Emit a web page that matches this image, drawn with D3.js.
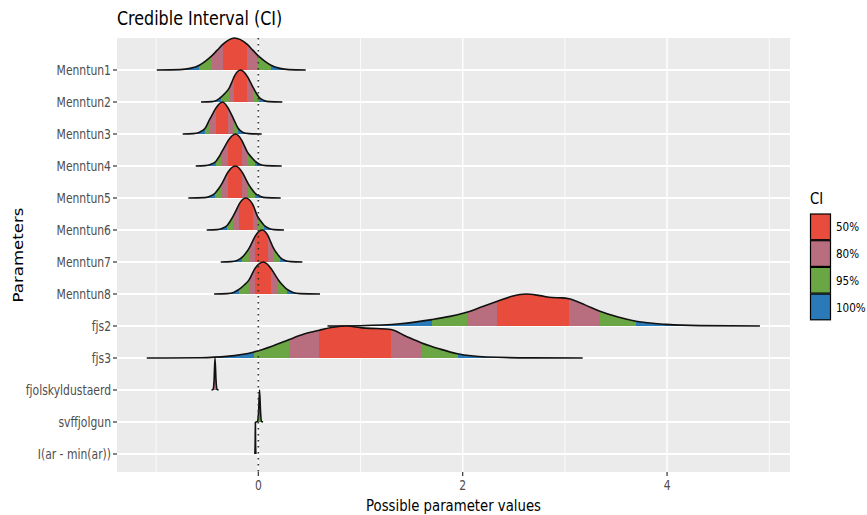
<!DOCTYPE html>
<html>
<head>
<meta charset="utf-8">
<script src="https://cdn.jsdelivr.net/npm/d3@7"></script>
<style>
body { margin: 0; background: #fff; }
text { font-family: "DejaVu Sans", sans-serif; }
</style>
</head>
<body>
<svg id="chart" width="867" height="515"></svg>
<script>
// parameters, top to bottom
const params = ["Menntun1", "Menntun2", "Menntun3", "Menntun4", "Menntun5", "Menntun6", "Menntun7", "Menntun8",
   "fjs2", "fjs3", "fjolskyldustaerd", "svffjolgun", "I(ar - min(ar))"];

// credible intervals
const ci50 = [[-0.348, -0.108], [-0.235, -0.108], [-0.417, -0.294], [-0.294, -0.162], [-0.299, -0.157],
   [-0.189, -0.055], [-0.032, 0.098], [-0.032, 0.124], [2.339, 3.040], [0.597, 1.298],
   [-0.428, -0.420], [0.008, 0.016], [-0.0295, -0.0285]];
const ci80 = [[-0.456, 0.000], [-0.284, -0.049], [-0.479, -0.238], [-0.358, -0.108], [-0.358, -0.098],
   [-0.245, -0.010], [-0.088, 0.147], [-0.091, 0.196], [2.039, 3.343], [0.303, 1.599],
   [-0.432, -0.416], [0.004, 0.020], [-0.030, -0.028]];
const ci95 = [[-0.577, 0.124], [-0.365, 0.007], [-0.522, -0.196], [-0.414, -0.032], [-0.424, -0.032],
   [-0.303, 0.056], [-0.157, 0.212], [-0.186, 0.278], [1.697, 3.696], [-0.042, 1.951],
   [-0.437, -0.411], [0.000, 0.024], [-0.031, -0.027]];

// density outlines (x value, relative height)
const densX = [
   [-0.994, -0.766, -0.668, -0.577, -0.517, -0.456, -0.402, -0.348, -0.235, -0.108, -0.054, 0.000, 0.062, 0.124, 0.212, 0.300, 0.464],
   [-0.561, -0.453, -0.409, -0.365, -0.324, -0.284, -0.259, -0.235, -0.174, -0.108, -0.078, -0.049, -0.021, 0.007, 0.056, 0.105, 0.235],
   [-0.740, -0.639, -0.580, -0.522, -0.479, -0.448, -0.417, -0.350, -0.294, -0.265, -0.238, -0.196, -0.150, -0.091, 0.033],
   [-0.613, -0.522, -0.468, -0.414, -0.386, -0.358, -0.326, -0.294, -0.223, -0.162, -0.135, -0.108, -0.069, -0.032, 0.017, 0.075, 0.229],
   [-0.685, -0.531, -0.478, -0.424, -0.391, -0.358, -0.329, -0.299, -0.223, -0.157, -0.127, -0.098, -0.065, -0.032, 0.022, 0.075, 0.219],
   [-0.505, -0.404, -0.355, -0.303, -0.274, -0.245, -0.216, -0.189, -0.125, -0.055, -0.032, -0.010, 0.023, 0.056, 0.105, 0.154, 0.251],
   [-0.368, -0.267, -0.208, -0.157, -0.122, -0.088, -0.060, -0.032, 0.036, 0.098, 0.122, 0.147, 0.180, 0.212, 0.261, 0.320, 0.431],
   [-0.433, -0.306, -0.243, -0.186, -0.138, -0.091, -0.062, -0.032, 0.049, 0.124, 0.160, 0.196, 0.237, 0.278, 0.340, 0.408, 0.604],
   [0.677, 0.995, 1.387, 1.697, 1.876, 2.039, 2.189, 2.339, 2.482, 2.619, 2.756, 2.874, 2.972, 3.040, 3.197, 3.343, 3.520, 3.696, 3.996, 4.322, 4.909],
   [-1.092, -0.570, -0.309, -0.042, 0.134, 0.303, 0.447, 0.597, 0.731, 0.865, 1.015, 1.159, 1.298, 1.445, 1.599, 1.778, 1.951, 2.235, 2.659, 3.174],
   [-0.458, -0.443, -0.433, -0.424, -0.414, -0.404, -0.389],
   [-0.023, -0.008, 0.002, 0.012, 0.022, 0.031, 0.046],
   [-0.034, -0.031, -0.029, -0.027, -0.024]
];
const densH = [
   [0, 0.012, 0.05, 0.15, 0.28, 0.44, 0.62, 0.80, 1, 0.80, 0.62, 0.44, 0.28, 0.15, 0.05, 0.012, 0],
   [0, 0.012, 0.05, 0.15, 0.28, 0.44, 0.62, 0.80, 1, 0.80, 0.62, 0.44, 0.28, 0.15, 0.05, 0.012, 0],
   [0, 0.012, 0.05, 0.17, 0.44, 0.62, 0.80, 1, 0.80, 0.62, 0.44, 0.17, 0.05, 0.012, 0],
   [0, 0.012, 0.05, 0.15, 0.28, 0.44, 0.62, 0.80, 1, 0.80, 0.62, 0.44, 0.28, 0.15, 0.05, 0.012, 0],
   [0, 0.012, 0.05, 0.15, 0.28, 0.44, 0.62, 0.80, 1, 0.80, 0.62, 0.44, 0.28, 0.15, 0.05, 0.012, 0],
   [0, 0.012, 0.05, 0.15, 0.28, 0.44, 0.62, 0.80, 1, 0.80, 0.62, 0.44, 0.28, 0.15, 0.05, 0.012, 0],
   [0, 0.012, 0.05, 0.15, 0.28, 0.44, 0.62, 0.80, 1, 0.80, 0.62, 0.44, 0.28, 0.15, 0.05, 0.012, 0],
   [0, 0.012, 0.05, 0.15, 0.28, 0.44, 0.62, 0.80, 1, 0.80, 0.62, 0.44, 0.28, 0.15, 0.05, 0.012, 0],
   [0, 0.01, 0.07, 0.2, 0.3, 0.43, 0.6, 0.77, 0.93, 1, 0.95, 0.89, 0.88, 0.85, 0.66, 0.46, 0.28, 0.15, 0.05, 0.012, 0],
   [0, 0.01, 0.05, 0.19, 0.37, 0.58, 0.75, 0.87, 0.96, 1, 0.94, 0.92, 0.89, 0.68, 0.47, 0.28, 0.13, 0.03, 0.005, 0],
   [0, 0.02, 0.3, 1, 0.3, 0.02, 0],
   [0, 0.02, 0.3, 1, 0.3, 0.02, 0],
   [0, 0.3, 1, 0.3, 0]
];

const ciLevels = ["50%", "80%", "95%", "100%"];
const ciColors = ["#E74C3C", "#B86E7E", "#6AA744", "#2A7AB9"];
const xMajor = [0, 2, 4];
const xMinor = [-1, 1, 3, 5];

const sx = 0.8; // text in the picture is squeezed horizontally
const svg = d3.select("#chart");
const pLeft = 117, pRight = 790, pTop = 38, pBottom = 472;

const x = d3.scaleLinear().domain([-1.383, 5.203]).range([pLeft, pRight]);
const y = d3.scalePoint().domain(params).range([70, 454]);
const ridgeH = 32;

function txt(g, px, py, str, size, anchor, color) {
   return g.append("text")
      .attr("transform", `translate(${px},${py}) scale(${sx},1)`)
      .attr("text-anchor", anchor)
      .style("font-size", size + "px")
      .attr("fill", color)
      .text(str);
}

// panel
svg.append("rect").attr("x", pLeft).attr("y", pTop).attr("width", pRight - pLeft).attr("height", pBottom - pTop).attr("fill", "#EBEBEB");

svg.selectAll(".minor").data(xMinor).join("line")
   .attr("x1", d => x(d)).attr("x2", d => x(d)).attr("y1", pTop).attr("y2", pBottom)
   .attr("stroke", "#fff").attr("stroke-width", 0.8);
svg.selectAll(".major").data(xMajor).join("line")
   .attr("x1", d => x(d)).attr("x2", d => x(d)).attr("y1", pTop).attr("y2", pBottom)
   .attr("stroke", "#fff").attr("stroke-width", 1.4);
svg.selectAll(".hgrid").data(params).join("line")
   .attr("x1", pLeft).attr("x2", pRight).attr("y1", d => y(d)).attr("y2", d => y(d))
   .attr("stroke", "#fff").attr("stroke-width", 1.8);

// gradients giving the CI bands
const defs = svg.append("defs");
params.forEach((p, i) => {
   const grad = defs.append("linearGradient").attr("id", "g" + i)
      .attr("gradientUnits", "userSpaceOnUse")
      .attr("x1", pLeft).attr("x2", pRight).attr("y1", 0).attr("y2", 0);
   const off = v => (x(v) - pLeft) / (pRight - pLeft);
   const stops = [
      [0, ciColors[3]], [off(ci95[i][0]), ciColors[3]], [off(ci95[i][0]), ciColors[2]],
      [off(ci80[i][0]), ciColors[2]], [off(ci80[i][0]), ciColors[1]],
      [off(ci50[i][0]), ciColors[1]], [off(ci50[i][0]), ciColors[0]],
      [off(ci50[i][1]), ciColors[0]], [off(ci50[i][1]), ciColors[1]],
      [off(ci80[i][1]), ciColors[1]], [off(ci80[i][1]), ciColors[2]],
      [off(ci95[i][1]), ciColors[2]], [off(ci95[i][1]), ciColors[3]], [1, ciColors[3]]
   ];
   stops.forEach(s => grad.append("stop").attr("offset", s[0]).attr("stop-color", s[1]));
});

// ridges, top to bottom so lower ones sit on top
params.forEach((p, i) => {
   const pts = densX[i].map((v, j) => [v, densH[i][j]]);
   const base = y(p);
   const area = d3.area().x(d => x(d[0])).y0(base).y1(d => base - d[1] * ridgeH).curve(d3.curveMonotoneX);
   const line = d3.line().x(d => x(d[0])).y(d => base - d[1] * ridgeH).curve(d3.curveMonotoneX);
   svg.append("path").attr("d", area(pts)).attr("fill", `url(#g${i})`);
   svg.append("path").attr("d", line(pts)).attr("fill", "none").attr("stroke", "#111")
      .attr("stroke-width", 1.6).attr("stroke-linejoin", "round");
});

// dotted zero line
svg.append("line").attr("x1", x(0)).attr("x2", x(0)).attr("y1", pTop).attr("y2", pBottom)
   .attr("stroke", "#333").attr("stroke-width", 1.6).attr("stroke-dasharray", "1.6 4.4");

// axes
const axis = svg.append("g");
params.forEach(p => {
   axis.append("line").attr("x1", pLeft - 4).attr("x2", pLeft).attr("y1", y(p)).attr("y2", y(p)).attr("stroke", "#333").attr("stroke-width", 1.2);
   txt(axis, pLeft - 6, y(p) + 4.8, p, 13.5, "end", "#4D4D4D");
});
xMajor.forEach(t => {
   axis.append("line").attr("x1", x(t)).attr("x2", x(t)).attr("y1", pBottom).attr("y2", pBottom + 4).attr("stroke", "#333").attr("stroke-width", 1.2);
   txt(axis, x(t), 490, t, 13.5, "middle", "#4D4D4D");
});
txt(svg, (pLeft + pRight) / 2, 511, "Possible parameter values", 16.6, "middle", "#000");
svg.append("text")
   .attr("transform", `translate(23,${(pTop + pBottom) / 2}) scale(${sx},1) rotate(-90)`)
   .attr("text-anchor", "middle").style("font-size", "16.6px").text("Parameters");
txt(svg, pLeft, 25, "Credible Interval (CI)", 19.9, "start", "#000");

// legend
const leg = svg.append("g");
txt(leg, 810, 204, "CI", 16.6, "start", "#000");
ciLevels.forEach((l, i) => {
   const ky = 213.5 + i * 26.7;
   leg.append("rect").attr("x", 810.5).attr("y", ky + 0.5).attr("width", 20).attr("height", 25.7)
      .attr("fill", ciColors[i]).attr("stroke", "#000").attr("stroke-width", 1.2);
   txt(leg, 836, ky + 13.3 + 4.6, l, 13, "start", "#000");
});
</script>
</body>
</html>
